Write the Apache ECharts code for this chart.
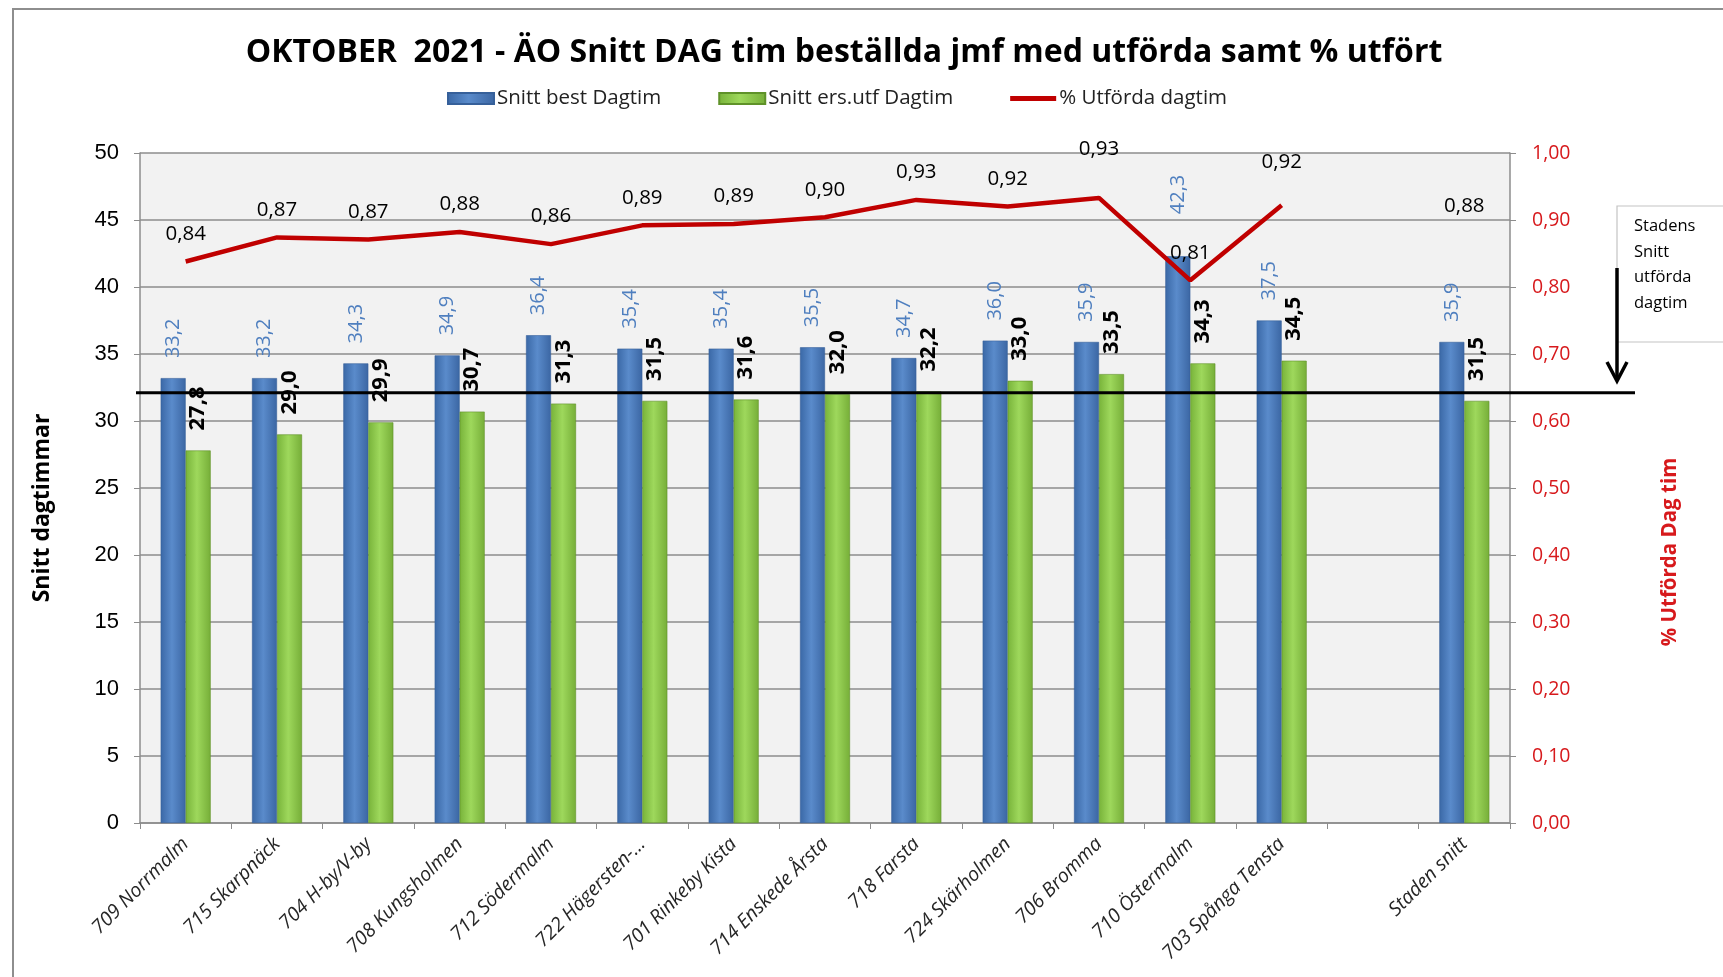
<!DOCTYPE html>
<html>
<head>
<meta charset="utf-8">
<script src="https://cdn.jsdelivr.net/npm/echarts@6/dist/echarts.min.js"></script>
<style>
  html, body { margin: 0; padding: 0; background: #fff; }
  #main { width: 1723px; height: 977px; }
</style>
</head>
<body>
<div id="main"></div>
<script>
// kategorier (sista är stadens snitt, en tom lucka före)
var categories = ['709 Norrmalm', '715 Skarpnäck', '704 H-by/V-by', '708 Kungsholmen', '712 Södermalm',
  '722 Hägersten-…', '701 Rinkeby Kista', '714 Enskede Årsta', '718 Farsta', '724 Skärholmen',
  '706 Bromma', '710 Östermalm', '703 Spånga Tensta', '', 'Staden snitt'];
var bestDagtim = [33.2, 33.2, 34.3, 34.9, 36.4, 35.4, 35.4, 35.5, 34.7, 36.0, 35.9, 42.3, 37.5, null, 35.9];
var utfDagtim = [27.8, 29.0, 29.9, 30.7, 31.3, 31.5, 31.6, 32.0, 32.2, 33.0, 33.5, 34.3, 34.5, null, 31.5];
var andelUtford = [0.838, 0.874, 0.871, 0.882, 0.864, 0.892, 0.894, 0.904, 0.930, 0.920, 0.933, 0.810, 0.922, null, 0.88];
var stadensSnitt = 32.1;
var leftTicks = { min: 0, max: 50, interval: 5 };
var rightTicks = { min: 0, max: 1, interval: 0.1 };

var FONT = '"Open Sans", "Noto Sans", sans-serif';
var gridLeft = 140, gridTop = 153, gridRight = 1510, gridBottom = 823;

function komma(v, d) { return v == null ? '' : v.toFixed(d).replace('.', ','); }

// lite extra höjd på några etiketter, som i originalet
var lineLift = { 10: 38, 12: 33 };
var blueLift = { 11: 42 };

var lineData = andelUtford.map(function (v, i) {
  return { value: v, label: { distance: lineLift[i] || 17 } };
});
var blueData = bestDagtim.map(function (v, i) {
  return { value: v, label: { distance: blueLift[i] || 20 } };
});

var blueFill = new echarts.graphic.LinearGradient(0, 0, 1, 0, [
  { offset: 0, color: '#3a68a6' }, { offset: 0.45, color: '#5a8bcb' }, { offset: 1, color: '#3b66a3' }
]);
var greenFill = new echarts.graphic.LinearGradient(0, 0, 1, 0, [
  { offset: 0, color: '#78b33a' }, { offset: 0.45, color: '#9ed85c' }, { offset: 1, color: '#76ae38' }
]);

var chart = echarts.init(document.getElementById('main'));
chart.setOption({
  animation: false,
  backgroundColor: '#fff',
  title: {
    text: 'OKTOBER  2021 - ÄO Snitt DAG tim beställda jmf med utförda samt % utfört',
    left: 839, textAlign: 'center', top: 32,
    textStyle: { fontFamily: FONT, fontSize: 32, fontWeight: 'bold', color: '#000' }
  },
  legend: {
    top: 83, left: 442,
    itemWidth: 46, itemHeight: 11, itemGap: 57,
    textStyle: { fontFamily: FONT, fontSize: 20.5, color: '#222', padding: [0, 0, 0, -2] },
    data: [
      { name: 'Snitt best Dagtim', icon: 'rect' },
      { name: 'Snitt ers.utf Dagtim', icon: 'rect' },
      { name: '% Utförda dagtim', icon: 'path://M0,0h0.05v0.05h-0.05z M0,3h46v5h-46z M0,11h0.05v-0.05h-0.05z' }
    ]
  },
  grid: {
    left: gridLeft, top: gridTop, right: 1723 - gridRight, bottom: 977 - gridBottom,
    show: true, backgroundColor: '#f2f2f2', borderWidth: 0
  },
  xAxis: {
    type: 'category',
    data: categories,
    axisLine: { lineStyle: { color: '#8c8c8c', width: 1.5 } },
    axisTick: { show: true, length: 6, lineStyle: { color: '#8c8c8c' } },
    axisLabel: {
      interval: 0, rotate: 45, margin: 18,
      fontFamily: FONT, fontSize: 19.5, fontStyle: 'italic', color: '#262626'
    }
  },
  yAxis: [{
    type: 'value', min: leftTicks.min, max: leftTicks.max, interval: leftTicks.interval,
    axisLine: { show: true, lineStyle: { color: '#8c8c8c', width: 1.5 } },
    axisTick: { show: true, length: 6, lineStyle: { color: '#8c8c8c' } },
    axisLabel: { fontFamily: '"Liberation Sans", Arial, sans-serif', fontSize: 22, color: '#000', margin: 21 },
    splitLine: { lineStyle: { color: '#8c8c8c', width: 1.5 } }
  }, {
    type: 'value', min: rightTicks.min, max: rightTicks.max, interval: rightTicks.interval,
    position: 'right',
    axisLine: { show: true, lineStyle: { color: '#8c8c8c', width: 1.5 } },
    axisTick: { show: true, length: 6, lineStyle: { color: '#8c8c8c' } },
    axisLabel: {
      fontFamily: FONT, fontSize: 19.5, color: '#d7191c', margin: 22,
      formatter: function (v) { return komma(v, 2); }
    },
    splitLine: { show: false }
  }],
  series: [{
    name: 'Snitt best Dagtim',
    type: 'bar',
    data: blueData,
    barWidth: 25,
    barGap: '0%',
    itemStyle: { color: blueFill, borderColor: '#36609a', borderWidth: 0.6 },
    label: {
      show: true, position: 'top', rotate: 90, align: 'left', verticalAlign: 'middle',
      fontFamily: FONT, fontSize: 20, color: '#4f7fbf',
      formatter: function (p) { return komma(p.value, 1); }
    }
  }, {
    name: 'Snitt ers.utf Dagtim',
    type: 'bar',
    data: utfDagtim,
    barWidth: 25,
    itemStyle: { color: greenFill, borderColor: '#5f9229', borderWidth: 0.6 },
    label: {
      show: true, position: 'top', rotate: 90, align: 'left', verticalAlign: 'middle', distance: 20,
      fontFamily: FONT, fontSize: 22, fontWeight: 'bold', color: '#000',
      formatter: function (p) { return komma(p.value, 1); }
    }
  }, {
    name: '% Utförda dagtim',
    type: 'line',
    yAxisIndex: 1,
    data: lineData,
    symbol: 'circle',
    symbolSize: 0.01,
    showSymbol: true,
    lineStyle: { color: '#c00000', width: 4.5 },
    itemStyle: { color: '#c00000' },
    z: 5,
    label: {
      show: true, position: 'top',
      fontFamily: FONT, fontSize: 20.5, color: '#000',
      formatter: function (p) { return komma(p.value, 2); }
    }
  }]
});

// stadens snitt-linje, pil och textruta, axelrubriker
var ySnitt = chart.convertToPixel({ yAxisIndex: 0 }, stadensSnitt);
var arrowX = gridRight + 107;
chart.setOption({
  graphic: [
    {
      type: 'rect', silent: true, z: 100,
      shape: { x: 13, y: 9, width: 1800, height: 1100 },
      style: { fill: 'none', stroke: '#8e8e8e', lineWidth: 2 }
    },
    {
      type: 'line', silent: true, z: 60,
      shape: { x1: gridLeft - 4, y1: ySnitt, x2: gridRight + 125, y2: ySnitt },
      style: { stroke: '#000', lineWidth: 3 }
    },
    {
      type: 'rect', silent: true, z: 50,
      shape: { x: arrowX, y: 206, width: 200, height: 136 },
      style: { fill: '#fff', stroke: '#c4c4c4', lineWidth: 1.2 }
    },
    {
      type: 'text', silent: true, z: 55,
      x: arrowX + 17, y: 214,
      style: {
        text: 'Stadens\nSnitt\nutförda\ndagtim',
        fontFamily: FONT, fontSize: 16.5, lineHeight: 25.5, fill: '#000'
      }
    },
    {
      type: 'line', silent: true, z: 61,
      shape: { x1: arrowX, y1: 268, x2: arrowX, y2: 381 },
      style: { stroke: '#000', lineWidth: 3.5 }
    },
    {
      type: 'polyline', silent: true, z: 61,
      shape: { points: [[arrowX - 10, 362], [arrowX, 381], [arrowX + 10, 362]] },
      style: { stroke: '#000', lineWidth: 3.5, fill: 'none' }
    },
    {
      type: 'text', silent: true, z: 55,
      x: 42, y: (gridTop + gridBottom) / 2 + 20, rotation: Math.PI / 2,
      style: {
        text: 'Snitt dagtimmar', align: 'center', verticalAlign: 'middle',
        fontFamily: FONT, fontSize: 23, fontWeight: 'bold', fill: '#000'
      }
    },
    {
      type: 'text', silent: true, z: 55,
      x: 1670, y: (gridTop + gridBottom) / 2 + 64, rotation: Math.PI / 2,
      style: {
        text: '% Utförda Dag tim', align: 'center', verticalAlign: 'middle',
        fontFamily: FONT, fontSize: 20.5, fontWeight: 'bold', fill: '#d7191c'
      }
    }
  ]
});
</script>
</body>
</html>
